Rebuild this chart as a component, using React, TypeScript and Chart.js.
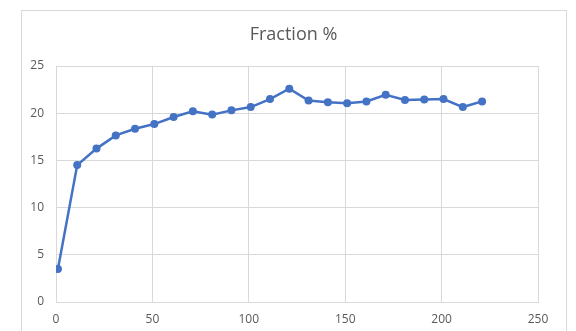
import React, { useEffect, useRef } from "react";
import { Chart, registerables } from "chart.js";

Chart.register(...registerables);

const xValues = [1, 11, 21, 31, 41, 51, 61, 71, 81, 91, 101, 111, 121, 131, 141, 151, 161, 171, 181, 191, 201, 211, 221];
const yValues = [3.5, 14.5, 16.25, 17.65, 18.35, 18.85, 19.6, 20.2, 19.85, 20.3, 20.65, 21.5, 22.6, 21.35, 21.15, 21.05, 21.25, 21.95, 21.4, 21.45, 21.5, 20.65, 21.25];
const titleText = "Fraction %";
const xMin = 0, xMax = 250, xStep = 50;
const yMin = 0, yMax = 25, yStep = 5;

const FONT = "'Open Sans', 'Noto Sans', sans-serif";
const TEXT = "#595959";
const GRID = "#d9d9d9";

const FRAME_L = 21, FRAME_T = 10, FRAME_W = 545;

const frame = {
  id: "frame",
  beforeDraw(chart: any) {
    const ctx = chart.ctx;
    ctx.save();
    ctx.fillStyle = "#ffffff";
    ctx.fillRect(0, 0, chart.width, chart.height);
    ctx.strokeStyle = GRID;
    ctx.lineWidth = 1;
    ctx.strokeRect(FRAME_L + 0.5, FRAME_T + 0.5, FRAME_W, 400);
    ctx.restore();
  },
  afterDraw(chart: any) {
    const ctx = chart.ctx;
    ctx.save();
    ctx.fillStyle = TEXT;
    ctx.font = `normal 18px ${FONT}`;
    ctx.textAlign = "center";
    ctx.textBaseline = "middle";
    ctx.fillText(titleText, FRAME_L + FRAME_W / 2, 35);
    ctx.restore();
  },
};

export default function App() {
  const ref = useRef<HTMLCanvasElement>(null);
  useEffect(() => {
    if (!ref.current) return;
    const chart = new Chart(ref.current, {
      type: "scatter",
      data: {
        datasets: [
          {
            label: titleText,
            data: xValues.map((x, i) => ({ x, y: yValues[i] })),
            showLine: true,
            borderColor: "#4472c4",
            backgroundColor: "#4472c4",
            borderWidth: 2.5,
            pointRadius: 4,
            pointBorderWidth: 0,
          },
        ],
      },
      options: {
        responsive: false,
        animation: false,
        layout: { padding: { left: 0, right: 38, top: 66, bottom: 0 } },
        plugins: {
          legend: { display: false },
          tooltip: { enabled: false },
          title: { display: false },
        },
        scales: {
          x: {
            type: "linear",
            min: xMin,
            max: xMax,
            ticks: { stepSize: xStep, color: TEXT, font: { family: FONT, size: 12 }, padding: 10, maxRotation: 0 },
            grid: { color: GRID, drawTicks: false },
            border: { color: GRID },
            afterFit: (s: any) => { s.height = 29; },
          },
          y: {
            type: "linear",
            min: yMin,
            max: yMax,
            ticks: { stepSize: yStep, color: TEXT, font: { family: FONT, size: 12 }, padding: 12 },
            grid: { color: GRID, drawTicks: false },
            border: { color: GRID },
            afterFit: (s: any) => { s.width = 56; },
          },
        },
      },
      plugins: [frame],
    });
    return () => chart.destroy();
  }, []);
  return (
    <div style={{ position: "absolute", left: 0, top: 0, width: 576, height: 331 }}>
      <canvas ref={ref} width={576} height={331} style={{ width: 576, height: 331, display: "block" }} />
    </div>
  );
}
